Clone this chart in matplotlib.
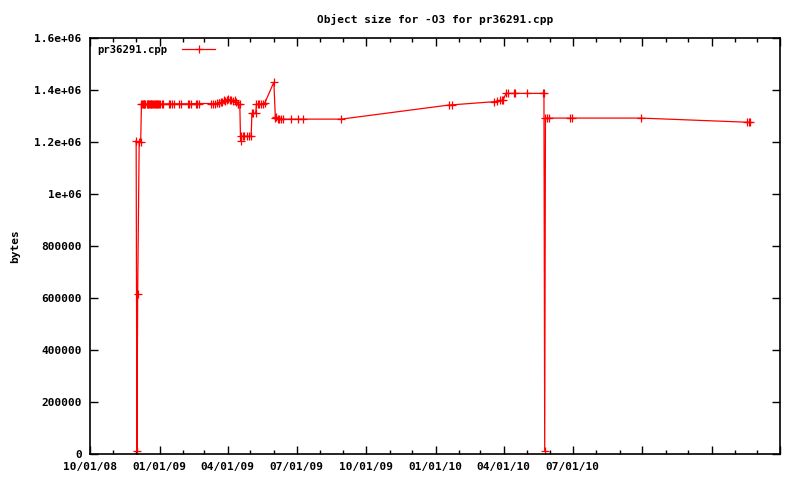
import matplotlib
matplotlib.use("Agg")
import matplotlib.pyplot as plt
import matplotlib.dates as mdates
import numpy as np
import pandas as pd

dates = [
    "2008-12-01", "2008-12-02", "2008-12-03", "2008-12-05", "2008-12-07",
    "2008-12-08", "2008-12-09", "2008-12-10", "2008-12-11", "2008-12-12", "2008-12-13",
    "2008-12-15", "2008-12-16", "2008-12-17", "2008-12-18", "2008-12-19", "2008-12-20",
    "2008-12-21", "2008-12-22", "2008-12-23", "2008-12-24", "2008-12-26", "2008-12-27",
    "2008-12-28", "2008-12-29", "2008-12-30", "2008-12-31",
    "2009-01-02", "2009-01-04", "2009-01-05",
    "2009-01-13", "2009-01-15", "2009-01-17", "2009-01-20",
    "2009-01-26", "2009-01-29",
    "2009-02-07", "2009-02-09", "2009-02-11",
    "2009-02-18", "2009-02-20", "2009-02-22",
    "2009-03-10", "2009-03-12", "2009-03-15",
    "2009-03-18", "2009-03-20", "2009-03-21",
    "2009-03-23", "2009-03-25", "2009-03-27", "2009-03-29", "2009-03-31", "2009-04-02",
    "2009-04-04", "2009-04-06", "2009-04-08", "2009-04-10", "2009-04-12", "2009-04-14",
    "2009-04-15", "2009-04-17",
    "2009-04-18",
    "2009-04-19", "2009-04-21", "2009-04-23", "2009-04-26", "2009-04-29", "2009-05-02",
    "2009-05-03", "2009-05-05", "2009-05-08",
    "2009-05-09", "2009-05-11", "2009-05-13", "2009-05-15", "2009-05-18", "2009-05-20",
    "2009-06-01",
    "2009-06-03", "2009-06-04", "2009-06-06", "2009-06-08", "2009-06-10", "2009-06-13",
    "2009-06-24", "2009-07-03", "2009-07-09", "2009-08-29",
    "2010-01-18", "2010-01-23",
    "2010-03-19", "2010-03-23", "2010-03-27", "2010-03-29", "2010-03-31",
    "2010-04-04", "2010-04-07", "2010-04-14", "2010-04-16", "2010-05-01",
    "2010-05-23", "2010-05-24",
    "2010-05-25",
    "2010-05-26", "2010-05-28", "2010-05-31",
    "2010-06-27", "2010-06-30",
    "2010-09-29",
    "2011-02-17", "2011-02-19", "2011-02-21",
]

sizes = [
    1205000, 12000, 615000, 1200000, 1200000,
    1346000, 1346000, 1346000, 1346000, 1346000, 1346000,
    1346000, 1346000, 1346000, 1346000, 1346000, 1346000,
    1346000, 1346000, 1346000, 1346000, 1346000, 1346000,
    1346000, 1346000, 1346000, 1346000,
    1346000, 1346000, 1346000,
    1347000, 1347000, 1347000, 1347000,
    1347000, 1347000,
    1347000, 1347000, 1347000,
    1348000, 1348000, 1348000,
    1348000, 1348000, 1348000,
    1349000, 1350000, 1350000,
    1352000, 1355000, 1360000, 1358000, 1362000, 1365000,
    1360000, 1362000, 1358000, 1360000, 1355000, 1347000,
    1345000, 1345000,
    1204000,
    1222000, 1222000, 1222000, 1222000, 1222000, 1222000,
    1310000, 1310000, 1310000,
    1346000, 1346000, 1346000, 1346000, 1348000, 1350000,
    1430000,
    1292000, 1295000, 1290000, 1290000, 1289000, 1288000,
    1288000, 1288000, 1288000, 1288000,
    1342000, 1343000,
    1355000, 1357000, 1360000, 1360000, 1362000,
    1387000, 1387000, 1387000, 1387000, 1387000,
    1387000, 1387000,
    12000,
    1292000, 1292000, 1292000,
    1292000, 1292000,
    1292000,
    1276000, 1276000, 1276000,
]

xtick_dates = ["2008-10-01", "2009-01-01", "2009-04-01", "2009-07-01", "2009-10-01",
               "2010-01-01", "2010-04-01", "2010-07-01", "2010-10-01", "2011-01-01",
               "2011-04-01"]
xtick_labels = ["10/01/08", "01/01/09", "04/01/09", "07/01/09", "10/01/09",
                "01/01/10", "04/01/10", "07/01/10", "", "", ""]
ytick_values = [0, 200000, 400000, 600000, 800000, 1000000, 1200000, 1400000, 1600000]
ytick_labels = ["0", "200000", "400000", "600000", "800000", "1e+06", "1.2e+06",
                "1.4e+06", "1.6e+06"]

title = "Object size for -O3 for pr36291.cpp"
series_name = "pr36291.cpp"

plt.rcParams['font.family'] = ['DejaVu Sans Mono']
plt.rcParams['font.weight'] = 'bold'
plt.rcParams['font.size'] = 8

fig = plt.figure(figsize=(8, 4.8), dpi=100)
ax = fig.add_axes([90 / 800, 1 - 454 / 480, 690 / 800, 416 / 480])

x = pd.to_datetime(dates)
ax.plot(x, sizes, color='#ff0000', linewidth=0.9, marker='+', markersize=5.5,
        markeredgewidth=0.9, label=series_name)

ax.set_xlim(pd.Timestamp(xtick_dates[0]), pd.Timestamp(xtick_dates[-1]))
ax.set_ylim(0, 1600000)

ax.set_xticks(pd.to_datetime(xtick_dates))
ax.set_xticklabels(xtick_labels)
ax.xaxis.set_minor_locator(mdates.MonthLocator())
ax.set_yticks(ytick_values)
ax.set_yticklabels(ytick_labels)

ax.tick_params(which='major', direction='in', length=6, width=1, top=True, right=True,
               colors='black', labelsize=8, pad=6)
ax.tick_params(which='minor', direction='in', length=3, width=1, top=True, right=True)
ax.tick_params(axis='y', which='minor', left=False, right=False)

for s in ax.spines.values():
    s.set_linewidth(1.2)
    s.set_color('black')

ax.set_title(title, fontsize=8, fontweight='bold', pad=11)
ax.set_ylabel("bytes", fontsize=8, fontweight='bold', labelpad=10)

leg = ax.legend(loc='upper left', frameon=False, handlelength=3.1, borderaxespad=0.25,
                handletextpad=1.4, markerfirst=False, fontsize=7.7)

fig.savefig("out.png", dpi=100)
